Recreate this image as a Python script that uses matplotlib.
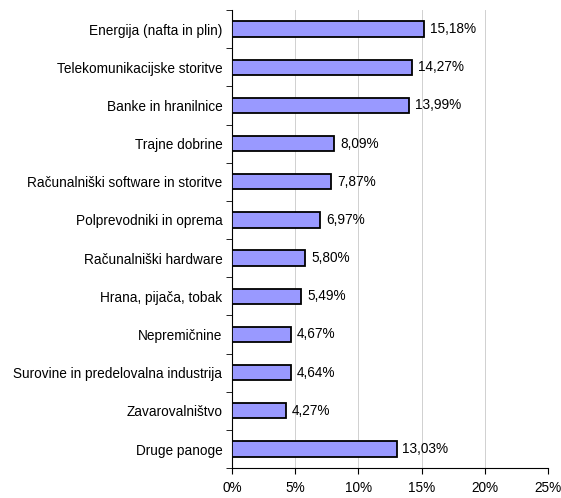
import matplotlib.pyplot as plt
import numpy as np
from matplotlib.ticker import FuncFormatter, MultipleLocator

plt.rcParams['font.family'] = ['Liberation Sans', 'DejaVu Sans']

categories = ["Energija (nafta in plin)", "Telekomunikacijske storitve", "Banke in hranilnice",
              "Trajne dobrine", "Računalniški software in storitve", "Polprevodniki in oprema",
              "Računalniški hardware", "Hrana, pijača, tobak", "Nepremičnine",
              "Surovine in predelovalna industrija", "Zavarovalništvo", "Druge panoge"]
values = [15.18, 14.27, 13.99, 8.09, 7.87, 6.97, 5.80, 5.49, 4.67, 4.64, 4.27, 13.03]
labels = ["15,18%", "14,27%", "13,99%", "8,09%", "7,87%", "6,97%", "5,80%", "5,49%",
          "4,67%", "4,64%", "4,27%", "13,03%"]

fig = plt.figure(figsize=(5.61, 4.98), dpi=100)
ax = fig.add_axes([0.4135, 0.06, 0.5633, 0.92])

fs = 9.8
y = np.arange(len(categories))
ax.barh(y, values, height=0.4, color='#9999FF', edgecolor='black', linewidth=1.3, zorder=3)
for yi, v, lab in zip(y, values, labels):
    ax.text(v + 0.45, yi, lab, va='center', ha='left', fontsize=fs)

ax.set_ylim(len(categories) - 0.5, -0.5)
ax.set_xlim(0, 25)
ax.set_yticks(y)
ax.set_yticklabels(categories, fontsize=fs)
ax.tick_params(axis='y', which='major', length=0, pad=7)
ax.set_yticks(np.arange(-0.5, len(categories), 1), minor=True)
ax.tick_params(axis='y', which='minor', length=4, direction='out')
ax.xaxis.set_major_locator(MultipleLocator(5))
ax.xaxis.set_major_formatter(FuncFormatter(lambda v, p: f"{int(v)}%"))
ax.tick_params(axis='x', length=4, labelsize=fs, pad=5)
ax.grid(axis='x', color='#d0d0d0', linewidth=0.7, zorder=0)
for s in ['top', 'right']:
    ax.spines[s].set_visible(False)

fig.savefig("out.png", dpi=100)
